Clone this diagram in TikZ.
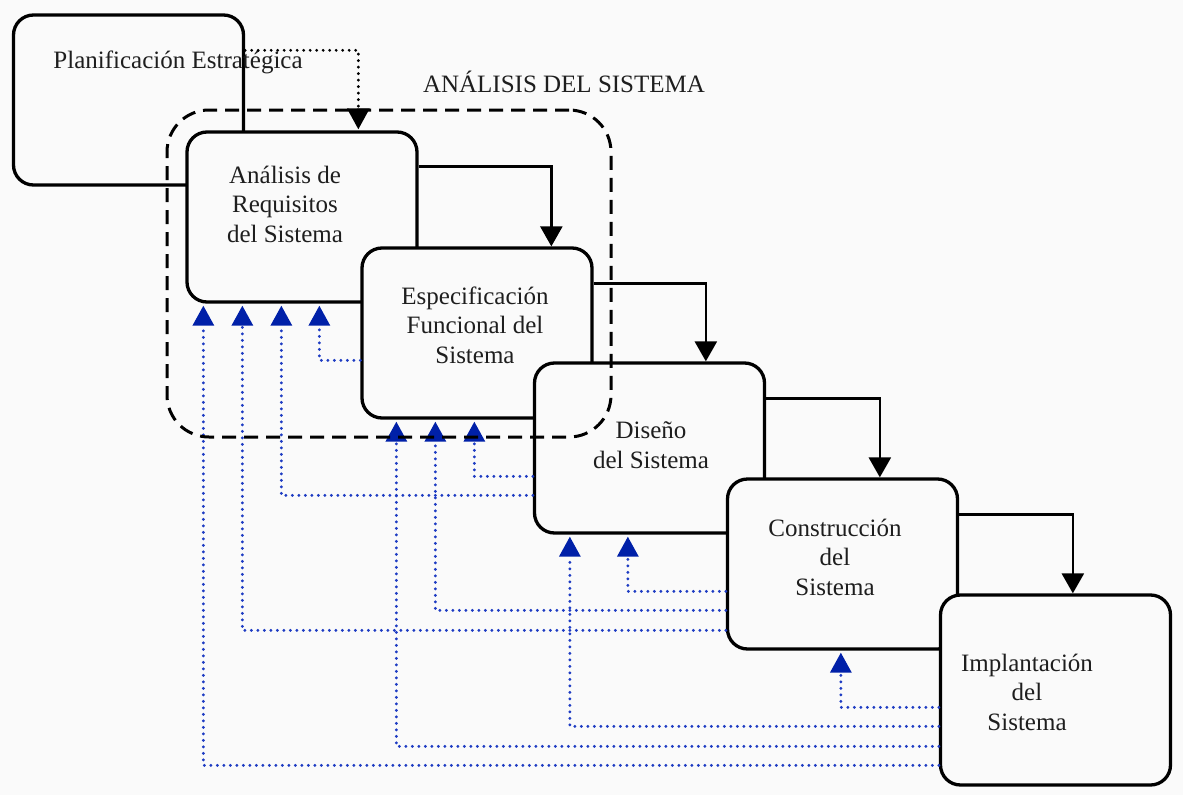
\documentclass[tikz,border=0pt]{standalone}
\usepackage{fontspec}
\setmainfont{Liberation Serif}
\usetikzlibrary{arrows.meta,calc}
\definecolor{bg}{RGB}{250,250,250}
\definecolor{fb}{RGB}{0,32,168}
\definecolor{fbdot}{RGB}{30,60,195}
\definecolor{ink}{RGB}{30,30,30}
\begin{document}
\begin{tikzpicture}[x=1pt,y=-1pt,
  box/.style={draw=black, line width=3.3pt, rounded corners=20pt, fill=bg,
    minimum width=230pt, minimum height=170pt, inner sep=0pt},
  lbl/.style={font=\fontsize{25}{29.5}\selectfont, text=ink, align=center, inner sep=0pt},
  flow/.style={draw=black, line width=2.7pt, -{Triangle[width=22pt,length=20pt]}},
  pdot/.style={draw=black, line width=3.1pt, line cap=round, dash pattern=on 0pt off 6.5pt,
    -{Triangle[width=22pt,length=21pt]}, shorten >=1pt},
  fback/.style={draw=fbdot, line width=3.2pt, line cap=round, dash pattern=on 0pt off 6.5pt,
    -{Triangle[width=21pt,length=20pt,fill=fb,color=fb]}, shorten >=2pt},
  grpbox/.style={draw=black, line width=3pt, dash pattern=on 14pt off 8pt, rounded corners=42pt,
    minimum width=444pt, minimum height=327pt, inner sep=0pt}
]
\useasboundingbox[fill=bg] (0,0) rectangle (1183,795);

% boxes
\node[box] (plan) at (128.5,100) {};
\node[lbl] (tplan) at (178,62) {Planificación Estratégica};
\node[box] (ana) at (302,217) {};
\node[lbl] (tana) at (285,204) {Análisis de\\Requisitos\\del Sistema};
\node[box] (esp) at (477,333) {};
\node[lbl] (tesp) at (475,325) {Especificación\\Funcional del\\Sistema};
\node[box] (dis) at (649.5,448) {};
\node[lbl] (tdis) at (651,445) {Diseño\\del Sistema};
\node[box] (con) at (842.5,564) {};
\node[lbl] (tcon) at (835,557) {Construcción\\del\\Sistema};
\node[box, minimum height=190pt] (imp) at (1055.5,690) {};
\node[lbl] (timp) at (1027,692) {Implantación\\del\\Sistema};

% forward flow
\draw[pdot] ($(plan.north east)+(0,37)$) -| ($(ana.north west)+(173,0)$);
\draw[flow] ($(ana.north east)+(0,36)$) -| ($(esp.north west)+(191,0)$);
\draw[flow] ($(esp.north east)+(0,37)$) -| ($(dis.north west)+(173,0)$);
\draw[flow] ($(dis.north east)+(0,37)$) -| ($(con.north west)+(154,0)$);
\draw[flow] ($(con.north east)+(0,37)$) -| ($(imp.north west)+(134,0)$);

% feedback
\draw[fback] ($(esp.north west)+(0,114)$) -| ($(ana.south west)+(134,0)$);
\draw[fback] ($(dis.north west)+(0,115)$) -| ($(esp.south west)+(114,0)$);
\draw[fback] ($(dis.north west)+(0,134)$) -| ($(ana.south west)+(96,0)$);
\draw[fback] ($(con.north west)+(0,114)$) -| ($(dis.south west)+(95,0)$);
\draw[fback] ($(con.north west)+(0,133)$) -| ($(esp.south west)+(75,0)$);
\draw[fback] ($(con.north west)+(0,153)$) -| ($(ana.south west)+(57,0)$);
\draw[fback] ($(imp.north west)+(0,114)$) -| ($(con.south west)+(115,0)$);
\draw[fback] ($(imp.north west)+(0,133)$) -| ($(dis.south west)+(37,0)$);
\draw[fback] ($(imp.north west)+(0,153)$) -| ($(esp.south west)+(36,0)$);
\draw[fback] ($(imp.north west)+(0,172)$) -| ($(ana.south west)+(18,0)$);

% group
\node[grpbox] (grp) at (389,273.5) {};
\node[lbl] (tgrp) at (564,82) {ANÁLISIS DEL SISTEMA};
\end{tikzpicture}
\end{document}
